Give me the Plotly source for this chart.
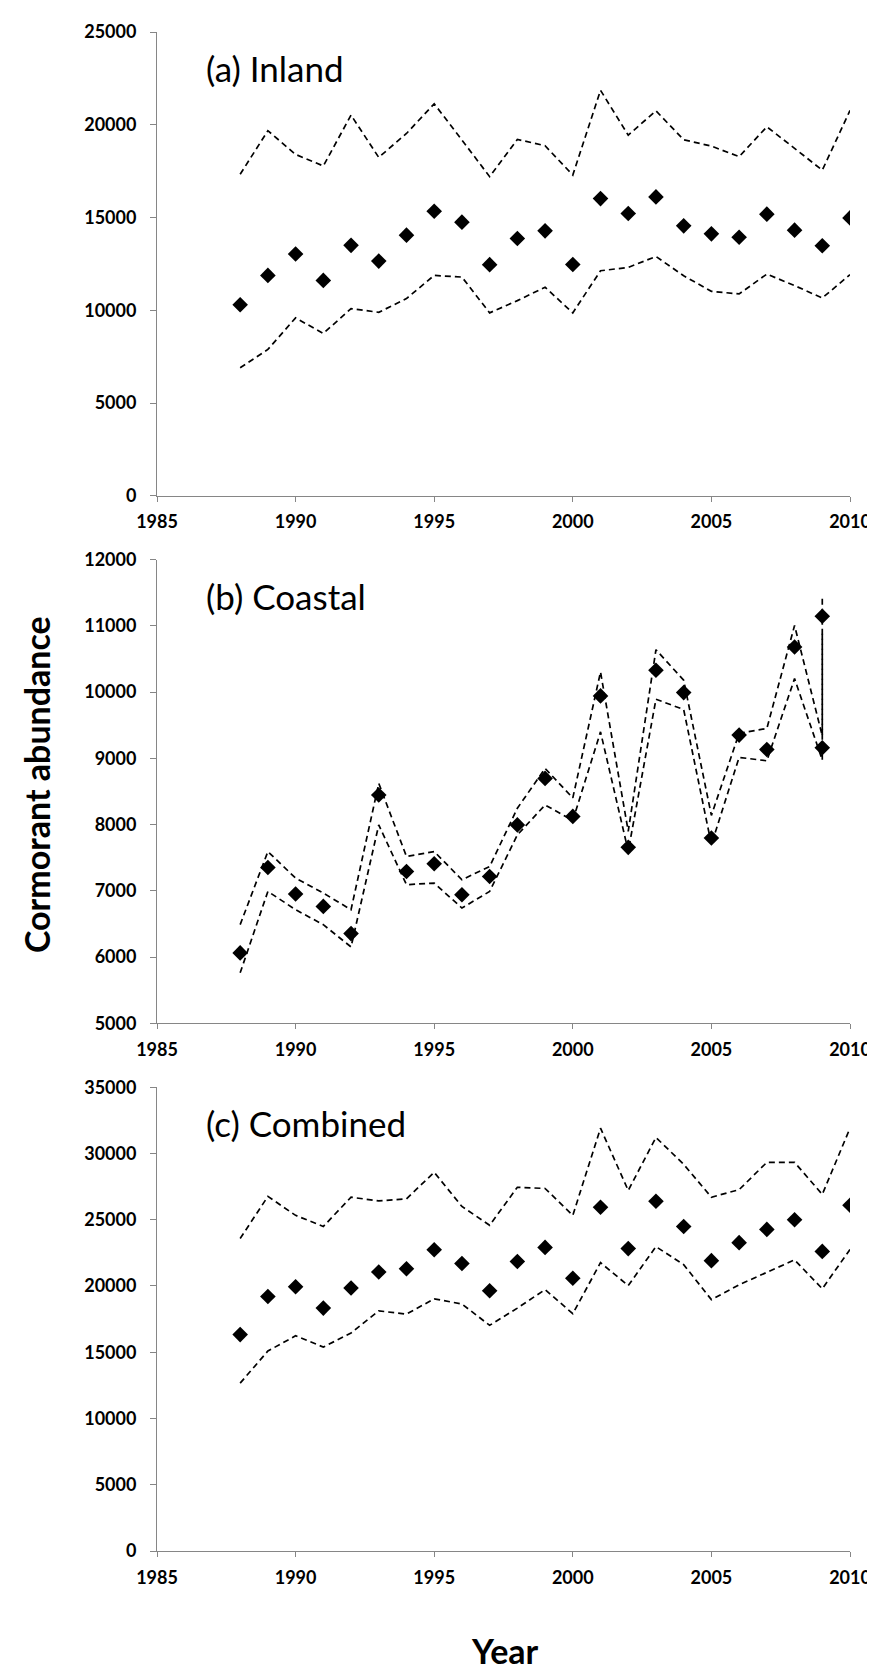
import plotly.graph_objects as go

# ---------------- data ----------------
inland_years = list(range(1988, 2011))
inland_est = [10300, 11880, 13030, 11610, 13500, 12650, 14050, 15340, 14750, 12460, 13870,
              14280, 12470, 16020, 15220, 16110, 14550, 14120, 13940, 15180, 14320, 13480, 14980]
inland_upper = [17330, 19680, 18400, 17780, 20520, 18240, 19530, 21130, 19180, 17200, 19210,
                18870, 17290, 21860, 19440, 20750, 19190, 18850, 18280, 19890, 18730, 17550, 20770]
inland_lower = [6900, 7890, 9590, 8750, 10090, 9890, 10630, 11880, 11790, 9860, 10520,
                11240, 9860, 12130, 12310, 12900, 11860, 11020, 10880, 11950, 11330, 10660, 11920]

coastal_years = list(range(1988, 2010)) + [2009]
coastal_est = [6064, 7353, 6952, 6766, 6355, 8447, 7293, 7409, 6942, 7218, 7996,
               8698, 8124, 9943, 7657, 10330, 9993, 7799, 9351, 9135, 10680, 9160, 11146]
coastal_upper = [6490, 7594, 7193, 6967, 6716, 8623, 7519, 7594, 7168, 7368, 8247,
                 8849, 8403, 10304, 7900, 10640, 10179, 8139, 9380, 9451, 11006, 9340, 11408]
coastal_lower = [5763, 6992, 6716, 6490, 6154, 7996, 7093, 7118, 6741, 6992, 7845,
                 8297, 8063, 9400, 7600, 9893, 9737, 7700, 9015, 8963, 10204, 8974, 10880]

combined_years = list(range(1988, 2011))
combined_est = [16330, 19210, 19940, 18330, 19850, 21060, 21300, 22730, 21700, 19640, 21850,
                22910, 20580, 25940, 22820, 26390, 24490, 21910, 23270, 24270, 25000, 22610, 26090]
combined_upper = [23580, 26760, 25330, 24490, 26700, 26420, 26580, 28580, 26000, 24580, 27450,
                  27360, 25330, 31910, 27210, 31210, 29180, 26700, 27270, 29330, 29330, 26910, 31910]
combined_lower = [12670, 15090, 16240, 15390, 16450, 18120, 17880, 19030, 18640, 17030, 18330,
                  19730, 17910, 21760, 20030, 22970, 21610, 18970, 20090, 21000, 21970, 19790, 22760]

panel_titles = ["(a) Inland", "(b) Coastal", "(c) Combined"]
y_ranges = [[0, 25000], [5000, 12000], [0, 35000]]
y_dticks = [5000, 1000, 5000]
x_range = [1985, 2010]
x_title = "Year"
y_title = "Cormorant abundance"

panels = [
    (inland_years, inland_est, inland_upper, inland_lower),
    (coastal_years, coastal_est, coastal_upper, coastal_lower),
    (combined_years, combined_est, combined_upper, combined_lower),
]

# ---------------- layout geometry ----------------
W, H = 875, 1672
ml, mr, mt, mb = 149, 27, 20, 129
plot_h = H - mt - mb
panel_px = 465
gap_px = (plot_h - 3 * panel_px) / 2
domains = []
for i in range(3):
    top = 1 - i * (panel_px + gap_px) / plot_h
    bottom = top - panel_px / plot_h
    domains.append([max(bottom, 0), min(top, 1)])

fig = go.Figure()
axis_gray = "#868686"
tick_font = dict(family="Lato", size=18, color="black", weight="bold")

for i, (xs, est, up, lo) in enumerate(panels):
    xa = "x" if i == 0 else f"x{i+1}"
    ya = "y" if i == 0 else f"y{i+1}"
    for series in (up, lo):
        fig.add_trace(go.Scatter(x=xs, y=series, mode="lines", xaxis=xa, yaxis=ya,
                                 line=dict(color="black", width=1.7, dash="6px,4px"),
                                 showlegend=False, hoverinfo="skip"))
    fig.add_trace(go.Scatter(x=xs, y=est, mode="markers", xaxis=xa, yaxis=ya,
                             marker=dict(symbol="diamond", size=12, color="black"),
                             showlegend=False))

    xkey = "xaxis" if i == 0 else f"xaxis{i+1}"
    ykey = "yaxis" if i == 0 else f"yaxis{i+1}"
    fig.update_layout(**{
        xkey: dict(domain=[0, 1], anchor=ya, range=x_range, tick0=1985, dtick=5,
                   tickformat="d", ticklabeloverflow="allow",
                   showline=True, linecolor=axis_gray, linewidth=1, showgrid=False,
                   zeroline=False, ticks="outside", ticklen=5, tickcolor=axis_gray,
                   tickfont=tick_font, ticklabelstandoff=5),
        ykey: dict(domain=domains[i], anchor=xa, range=y_ranges[i], dtick=y_dticks[i],
                   tickformat="d",
                   showline=True, linecolor=axis_gray, linewidth=1, showgrid=False,
                   zeroline=False, ticks="outside", ticklen=6, tickcolor=axis_gray,
                   tickfont=tick_font, ticklabelstandoff=10),
    })
    fig.add_annotation(text=panel_titles[i], xref=f"{xa} domain", yref=f"{ya} domain",
                       x=0.068, y=0.922, xanchor="left", yanchor="middle", showarrow=False,
                       font=dict(family="Lato", size=35, color="black"))

fig.add_annotation(text=y_title, xref="paper", yref="paper",
                   x=(27 - ml) / (W - ml - mr), y=(H - mb - 775) / plot_h,
                   xanchor="center", yanchor="middle", textangle=-90, showarrow=False,
                   font=dict(family="Lato", size=34, color="black", weight="bold"))
fig.add_annotation(text=x_title, xref="paper", yref="paper",
                   x=(500 - ml) / (W - ml - mr), y=(H - mb - 1643) / plot_h,
                   xanchor="center", yanchor="middle", showarrow=False,
                   font=dict(family="Lato", size=34, color="black", weight="bold"))

fig.update_layout(width=W, height=H, margin=dict(l=ml, r=mr, t=mt, b=mb),
                  paper_bgcolor="white", plot_bgcolor="white")

fig.write_html("out.html")
